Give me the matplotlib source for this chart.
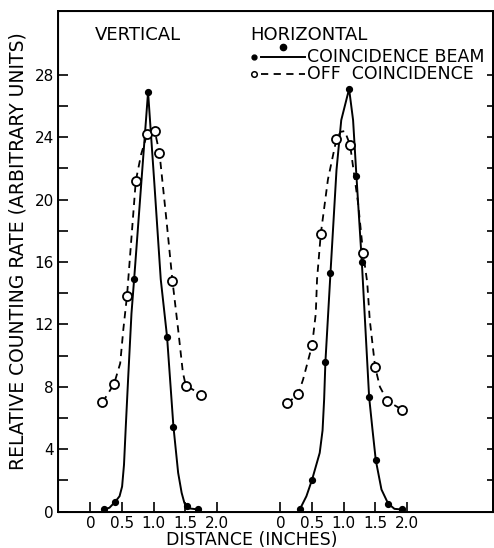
import matplotlib
matplotlib.use("Agg")
import matplotlib.pyplot as plt

vert_beam_x = [0.215, 0.395, 0.695, 0.91, 1.21, 1.31, 1.525, 1.70]
vert_beam_y = [0.13, 0.6, 14.9, 26.9, 11.2, 5.45, 0.34, 0.17]
vert_off_x = [0.19, 0.373, 0.578, 0.716, 0.895, 1.016, 1.09, 1.295, 1.506, 1.753]
vert_off_y = [7.0, 8.18, 13.85, 21.2, 24.2, 24.4, 23.0, 14.8, 8.08, 7.5]

hor_beam_x = [0.305, 0.50, 0.71, 0.79, 1.084, 1.20, 1.285, 1.40, 1.505, 1.70, 1.915]
hor_beam_y = [0.13, 2.05, 9.6, 15.3, 27.1, 21.5, 16.0, 7.35, 3.3, 0.51, 0.13]
hor_off_x = [0.105, 0.28, 0.50, 0.637, 0.885, 1.10, 1.305, 1.495, 1.69, 1.92]
hor_off_y = [6.93, 7.53, 10.66, 17.8, 23.9, 23.5, 16.6, 9.27, 7.07, 6.54]

# the hand-drawn curves
vert_beam_curve_x = [0.21, 0.30, 0.39, 0.46, 0.50, 0.53, 0.56, 0.595, 0.648, 0.69, 0.80, 0.91,
                     1.01, 1.11, 1.21, 1.31, 1.385, 1.44, 1.48, 1.505, 1.56, 1.70]
vert_beam_curve_y = [0.13, 0.24, 0.62, 0.98, 1.6, 3.0, 5.6, 8.5, 12.7, 14.9, 20.9, 26.9,
                     21.0, 14.9, 11.2, 5.47, 2.48, 1.2, 0.6, 0.34, 0.2, 0.13]
vert_off_curve_x = [0.19, 0.373, 0.47, 0.52, 0.578, 0.716, 0.80, 0.895, 0.96, 1.016,
                    1.09, 1.2, 1.295, 1.385, 1.46, 1.506, 1.753]
vert_off_curve_y = [7.0, 8.18, 9.5, 11.7, 13.85, 21.2, 22.9, 24.2, 24.5, 24.4,
                    23.0, 18.7, 14.8, 11.67, 8.9, 8.08, 7.5]

hor_beam_curve_x = [0.305, 0.41, 0.50, 0.62, 0.665, 0.69, 0.71, 0.79, 0.885, 0.96, 1.084,
                    1.147, 1.20, 1.285, 1.40, 1.453, 1.505, 1.595, 1.70, 1.80, 1.915]
hor_beam_curve_y = [0.13, 0.98, 2.05, 3.76, 5.2, 7.2, 9.6, 15.3, 21.9, 25.1, 27.1,
                    25.1, 21.5, 16.0, 7.35, 5.26, 3.3, 1.41, 0.51, 0.17, 0.13]
hor_off_curve_x = [0.105, 0.28, 0.357, 0.50, 0.558, 0.578, 0.637, 0.75, 0.885, 0.95,
                   1.016, 1.10, 1.225, 1.305, 1.37, 1.41, 1.495, 1.57, 1.69, 1.92]
hor_off_curve_y = [6.93, 7.53, 8.46, 10.66, 12.7, 14.9, 17.8, 21.3, 23.9, 24.35,
                   24.4, 23.5, 19.8, 16.6, 14.7, 12.3, 9.27, 8.0, 7.07, 6.54]

tick_vals = [0, 0.5, 1.0, 1.5, 2.0]
tick_labels = ['0', '0.5', '1.0', '1.5', '2.0']
shift = 3.0  # horizontal scan drawn 3 in. to the right on the same axis

plt.rcParams['font.family'] = ['DejaVu Sans']

fig = plt.figure(figsize=(4.94, 5.48), dpi=100)
ax = fig.add_axes([58 / 494, 1 - 511.5 / 548, 435 / 494, 500.5 / 548])

dash = (0, (4, 3))
for cx, cy, px, py, ox, oy, ocx, ocy, s in [
        (vert_beam_curve_x, vert_beam_curve_y, vert_beam_x, vert_beam_y,
         vert_off_x, vert_off_y, vert_off_curve_x, vert_off_curve_y, 0.0),
        (hor_beam_curve_x, hor_beam_curve_y, hor_beam_x, hor_beam_y,
         hor_off_x, hor_off_y, hor_off_curve_x, hor_off_curve_y, shift)]:
    ax.plot([x + s for x in cx], cy, color='black', lw=1.4, zorder=2)
    ax.plot([x + s for x in ocx], ocy, color='black', lw=1.3, ls=dash, zorder=2)
    ax.plot([x + s for x in ox], oy, 'o', mfc='white', mec='black', ms=6.5,
            mew=1.3, zorder=3)
    ax.plot([x + s for x in px], py, 'o', color='black', ms=4.2, zorder=4)

ax.set_xlim(-0.512, 6.356)
ax.set_ylim(0, 32.1)

ax.set_xticks(tick_vals + [t + shift for t in tick_vals])
ax.set_xticklabels(tick_labels * 2)
ax.set_yticks(range(0, 29, 4))
ax.set_yticks(range(2, 28, 4), minor=True)
ax.tick_params(direction='in', length=7, width=1.2, labelsize=11, pad=3)
ax.tick_params(which='minor', direction='in', length=7, width=1.2)
for sp in ax.spines.values():
    sp.set_linewidth(1.4)

axr = ax.twinx()
axr.set_ylim(0, 32.1)
axr.set_yticks(range(2, 29, 2))
axr.tick_params(direction='in', length=4.5, width=1.2, labelright=False)
axr.spines['right'].set_linewidth(1.4)

ax.set_xlabel('DISTANCE (INCHES)', fontsize=12.5)
ax.xaxis.set_label_coords(0.446, -0.038)
ax.set_ylabel('RELATIVE COUNTING RATE (ARBITRARY UNITS)', fontsize=13.5)
ax.yaxis.set_label_coords(-0.071, 0.52)

ax.text(0.085, 0.952, 'VERTICAL', transform=ax.transAxes, fontsize=13, va='center')
ax.text(0.443, 0.952, 'HORIZONTAL', transform=ax.transAxes, fontsize=13, va='center')

# hand-lettered key
ax.plot([0.451], [0.908], 'o', color='black', ms=3.5, transform=ax.transAxes)
ax.plot([0.467, 0.567], [0.908, 0.908], color='black', lw=1.4, transform=ax.transAxes)
ax.plot([0.517], [0.928], 'o', color='black', ms=4.5, transform=ax.transAxes)
ax.text(0.573, 0.908, 'COINCIDENCE BEAM', transform=ax.transAxes, fontsize=12.5,
        va='center')
ax.plot([0.451], [0.874], 'o', mfc='white', mec='black', ms=4, mew=1.1,
        transform=ax.transAxes)
ax.plot([0.467, 0.567], [0.874, 0.874], color='black', lw=1.3, ls=dash,
        transform=ax.transAxes)
ax.text(0.573, 0.874, 'OFF  COINCIDENCE', transform=ax.transAxes, fontsize=12.5,
        va='center')

fig.savefig('out.png', dpi=100)
